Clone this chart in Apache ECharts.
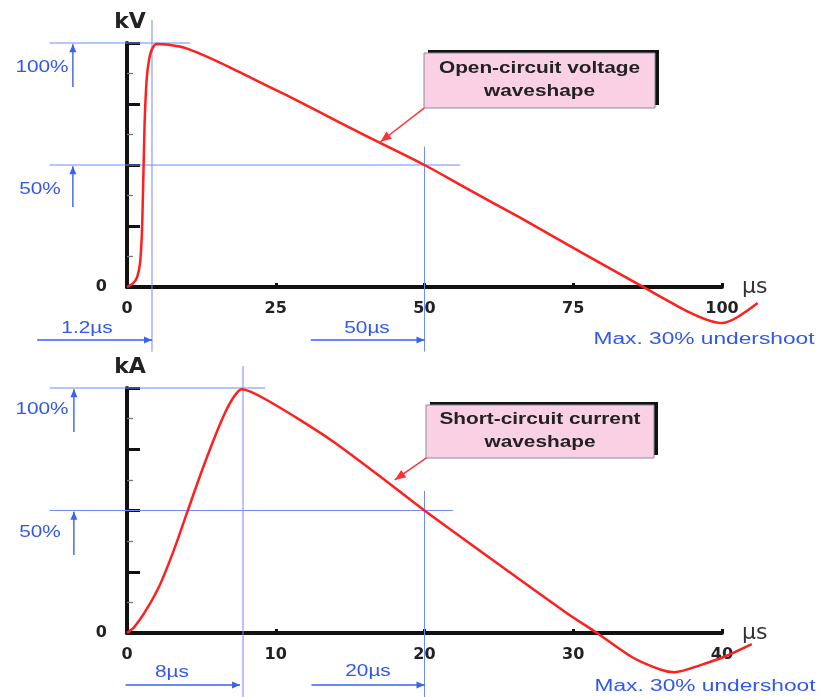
<!DOCTYPE html>
<html><head><meta charset="utf-8">
<script src="https://cdn.jsdelivr.net/npm/echarts@6/dist/echarts.min.js"></script>
<style>html,body{margin:0;padding:0;background:#fff}#c{width:824px;height:697px}</style>
</head><body><div id="c"></div>
<script>
// ---- data ----
const voltageTime = [0, 1, 1.7, 2.2, 2.5, 2.7, 2.85, 3.0, 3.3, 3.7, 4.2, 5.0, 7, 10, 15.6, 21.2, 26.8, 31.9, 40, 50, 57, 66, 75, 82.5, 87.5, 91, 94, 97.5, 100, 102.5, 106];
const voltagePct  = [0, 1.5, 4, 10, 22, 40, 56, 70, 85, 93, 97.5, 99.6, 99.3, 97.8, 92, 85.3, 78.6, 72.3, 62.1, 50, 40.5, 28.5, 16, 5.8, -1, -5.8, -9.8, -13.5, -14.8, -12.5, -6.6];
const currentTime = [0, 0.5, 1.3, 2.2, 3.1, 4.0, 4.9, 5.8, 6.6, 7.2, 7.7, 8.3, 9.4, 11.65, 13.9, 17, 20, 25, 29.6, 31.6, 34, 35.9, 36.8, 38.6, 40.1, 42];
const currentPct  = [0, 2.5, 9.5, 19.5, 33, 48.5, 64, 78.5, 90, 96.5, 99.5, 98.5, 95.1, 86.9, 78, 64, 50, 28, 8, 0, -10, -15, -16, -13, -9.8, -4.5];

const voltageTicks = [0, 25, 50, 75, 100];
const currentTicks = [0, 10, 20, 30, 40];
const pctTicks = [0, 25, 50, 75, 100];
// the curves overrun the drawn axis end (undershoot tail), so they use a wider hidden scale
const voltageCurveMax = 110;
const currentCurveMax = 44;

// guide segments in data units: [x1, y1, x2, y2, kind] kind 0=line, 1=blue arrow, 2=red arrow
const voltageGuides = [
  [-13, 100, 10.6, 100, 0],
  [-13, 50, 56, 50, 0],
  [4.2, 109.5, 4.2, -26.5, 0],
  [50, 57.5, 50, -26.5, 0],
  [-9.1, 82, -9.1, 99.5, 1],
  [-9.1, 32.8, -9.1, 49.5, 1],
  [-15.1, -21.7, 4.2, -21.7, 1],
  [30.9, -21.7, 50, -21.7, 1],
  [50, 73.4, 42.6, 59.5, 2]
];
const currentGuides = [
  [-5.2, 100, 9.3, 100, 0],
  [-5.2, 50, 21.9, 50, 0],
  [7.8, 109, 7.8, -26.5, 0],
  [20, 58, 20, -26.5, 0],
  [-3.57, 82, -3.57, 99.5, 1],
  [-3.57, 31.8, -3.57, 49.5, 1],
  [-0.1, -21.2, 7.6, -21.2, 1],
  [12.4, -21.2, 20, -21.2, 1],
  [20.2, 71.8, 18.0, 62.5, 2]
];

const voltageLabels = ['100%', '50%', '1.2\u00b5s', '50\u00b5s', 'Max. 30% undershoot'];
const currentLabels = ['100%', '50%', '8\u00b5s', '20\u00b5s', 'Max. 30% undershoot'];
const calloutTexts = ['Open-circuit voltage\nwaveshape', 'Short-circuit current\nwaveshape'];

// ---- chart ----
const chart = echarts.init(document.getElementById('c'));
const BLACK = '#111';
const BLUE_TXT = '#3158ea';
const RED = '#ff1f1f';
const GRID_W = 595;

function pairs(xs, ys) { return xs.map((x, i) => [x, ys[i]]); }

function renderGuide(params, api) {
  const p1 = api.coord([api.value(0), api.value(1)]);
  const p2 = api.coord([api.value(2), api.value(3)]);
  const kind = api.value(4);
  const color = kind === 2 ? '#ff3030' : (kind === 1 ? '#3a62f0' : '#6f8cf4');
  const children = [{
    type: 'line',
    shape: { x1: p1[0], y1: p1[1], x2: p2[0], y2: p2[1] },
    style: { stroke: color, lineWidth: kind === 0 ? 1 : 1.4 }
  }];
  if (kind > 0) {
    const dx = p2[0] - p1[0], dy = p2[1] - p1[1];
    const L = Math.hypot(dx, dy), ux = dx / L, uy = dy / L;
    const hl = kind === 2 ? 11 : 8, hw = kind === 2 ? 4.5 : 3.5;
    const bx = p2[0] - ux * hl, by = p2[1] - uy * hl;
    children.push({
      type: 'polygon',
      shape: { points: [[p2[0], p2[1]], [bx - uy * hw, by + ux * hw], [bx + uy * hw, by - ux * hw]] },
      style: { fill: color }
    });
  }
  return { type: 'group', children };
}

function xAxisCfg(idx, ticks) {
  return {
    type: 'value', gridIndex: idx,
    min: ticks[0], max: ticks[ticks.length - 1], interval: ticks[1] - ticks[0],
    name: '\u00b5s', nameLocation: 'end', nameGap: 20,
    nameTextStyle: { fontFamily: 'DejaVu Sans', fontSize: 22, color: '#333', verticalAlign: 'middle', padding: [0, 0, 8, 0] },
    axisLine: { show: true, onZero: true, lineStyle: { color: BLACK, width: 4 } },
    axisTick: { show: true, inside: true, length: 4, lineStyle: { color: BLACK, width: 3 } },
    axisLabel: { show: true, margin: 14, fontFamily: 'DejaVu Sans', fontWeight: 'bold', fontSize: 16, color: '#222' },
    splitLine: { show: false }
  };
}
function yAxisCfg(idx, name) {
  return {
    type: 'value', gridIndex: idx,
    min: pctTicks[0], max: pctTicks[pctTicks.length - 1], interval: pctTicks[1] - pctTicks[0],
    name: name, nameLocation: 'end', nameGap: 10,
    nameTextStyle: { fontFamily: 'DejaVu Sans', fontWeight: 'bold', fontSize: 22, color: '#222', align: 'center', padding: [0, 0, 0, 6] },
    axisLine: { show: true, lineStyle: { color: BLACK, width: 4 } },
    axisTick: { show: true, inside: true, length: 13, lineStyle: { color: BLACK, width: 3 } },
    minorTick: { show: true, splitNumber: 2, length: 6, lineStyle: { color: '#777', width: 1.3 } },
    axisLabel: { show: true, margin: 20, formatter: v => (v === 0 ? '0' : ''), fontFamily: 'DejaVu Sans', fontWeight: 'bold', fontSize: 16, color: '#222', padding: [12, 0, 0, 0] },
    splitLine: { show: false }
  };
}
function hiddenX(idx, max) {
  return { type: 'value', gridIndex: idx, min: 0, max: max, show: false, splitLine: { show: false } };
}
function hiddenY(idx) {
  return { type: 'value', gridIndex: idx, min: pctTicks[0], max: pctTicks[pctTicks.length - 1], show: false, splitLine: { show: false } };
}

function blueText(txt, cx, cy, scale) {
  return {
    type: 'text', x: cx, y: cy, scaleX: scale || 1.3, z: 10,
    style: { text: txt, fill: BLUE_TXT, font: '16px "Liberation Sans", Arial, sans-serif', align: 'center', verticalAlign: 'middle' }
  };
}
function callout(txt, x, y, w, h) {
  return [
    { type: 'rect', shape: { x: x + 4, y: y - 3, width: w, height: h }, style: { fill: '#111' }, z: 10 },
    { type: 'rect', shape: { x: x, y: y, width: w, height: h }, style: { fill: '#f9d0e4', stroke: '#8a8a9a', lineWidth: 1 }, z: 11 },
    { type: 'text', x: x + w / 2, y: y + h / 2, scaleX: 1.3, z: 12,
      style: { text: txt, fill: '#222', font: 'bold 16px "Liberation Sans", Arial, sans-serif', lineHeight: 23, align: 'center', verticalAlign: 'middle' } }
  ];
}

const option = {
  animation: false,
  backgroundColor: '#fff',
  grid: [
    { left: 127, top: 43, width: GRID_W, height: 244 },
    { left: 127, top: 388, width: GRID_W, height: 245 },
    { left: 127, top: 43, width: GRID_W * voltageCurveMax / voltageTicks[voltageTicks.length - 1], height: 244 },
    { left: 127, top: 388, width: GRID_W * currentCurveMax / currentTicks[currentTicks.length - 1], height: 245 }
  ],
  xAxis: [xAxisCfg(0, voltageTicks), xAxisCfg(1, currentTicks), hiddenX(2, voltageCurveMax), hiddenX(3, currentCurveMax)],
  yAxis: [yAxisCfg(0, 'kV'), yAxisCfg(1, 'kA'), hiddenY(2), hiddenY(3)],
  series: [
    { type: 'custom', xAxisIndex: 0, yAxisIndex: 0, data: voltageGuides, encode: { x: [0, 2], y: [1, 3] }, renderItem: renderGuide, clip: false, z: 1, silent: true },
    { type: 'custom', xAxisIndex: 1, yAxisIndex: 1, data: currentGuides, encode: { x: [0, 2], y: [1, 3] }, renderItem: renderGuide, clip: false, z: 1, silent: true },
    { type: 'line', xAxisIndex: 2, yAxisIndex: 2, data: pairs(voltageTime, voltagePct), showSymbol: false, symbol: 'none', smooth: 0.3, clip: false, z: 5,
      lineStyle: { color: RED, width: 2.5 } },
    { type: 'line', xAxisIndex: 3, yAxisIndex: 3, data: pairs(currentTime, currentPct), showSymbol: false, symbol: 'none', smooth: 0.3, clip: false, z: 5,
      lineStyle: { color: RED, width: 2.5 } }
  ],
  graphic: [
    blueText(voltageLabels[0], 42, 68),
    blueText(voltageLabels[1], 40, 190),
    blueText(voltageLabels[2], 87, 329),
    blueText(voltageLabels[3], 367, 329),
    blueText(voltageLabels[4], 704, 340, 1.42),
    blueText(currentLabels[0], 42, 410),
    blueText(currentLabels[1], 40, 533),
    blueText(currentLabels[2], 172, 673),
    blueText(currentLabels[3], 368, 672),
    blueText(currentLabels[4], 705, 687, 1.42),
    ...callout(calloutTexts[0], 424, 53, 231, 55),
    ...callout(calloutTexts[1], 426, 405, 228, 53)
  ]
};
chart.setOption(option);
</script>
</body></html>
